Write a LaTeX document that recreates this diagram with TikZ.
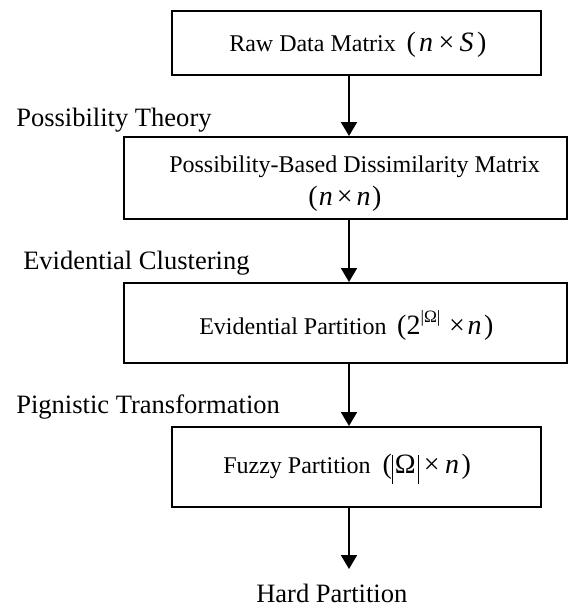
\documentclass[tikz,border=0pt]{standalone}
\usepackage{fontspec}
\setmainfont{Liberation Serif}
\usetikzlibrary{arrows.meta}
% math-like parts of the stage captions
\newcommand{\mth}[1]{{\fontsize{21}{24}\selectfont #1}}
\newcommand{\iv}[1]{\textit{#1}}
\newcommand{\tallbar}{\rule[-8.25pt]{0.7pt}{21.75pt}}
\newcommand{\gap}[1]{\hspace{#1pt}}
\begin{document}
\begin{tikzpicture}[x=0.75pt,y=-0.75pt,
  stage/.style={draw, line width=1.5pt, inner sep=0pt},
  stagetext/.style={anchor=base west, inner sep=0pt, font=\fontsize{18}{21}\selectfont},
  flow/.style={line width=1.5pt, -{Triangle[length=10.5pt,width=12pt]}},
  lbl/.style={anchor=base west, inner sep=0pt, font=\fontsize{19.9}{23}\selectfont}]
\useasboundingbox (0,0) rectangle (569,607);

% processing stages (boxes)
\node[stage, minimum width=276.75pt, minimum height=48pt]   (raw)   at (356.5,43)  {};
\node[stage, minimum width=332.25pt, minimum height=61.5pt] (diss)  at (345.5,178) {};
\node[stage, minimum width=332.25pt, minimum height=60pt]   (evid)  at (345.5,323) {};
\node[stage, minimum width=276.75pt, minimum height=60pt]   (fuzzy) at (356.5,467) {};

% stage captions
\node[stagetext] (rawt) at (229,51.5)
  {Raw Data Matrix\gap{8}\mth{(\gap{2.5}\iv{n}\gap{4}×\gap{4}\iv{S}\gap{2.5})}};
\node[stagetext] (disst) at (169,172) {Possibility-Based Dissimilarity Matrix};
\node[stagetext] (dissm) at (308,205)
  {\mth{(\gap{1}\iv{n}\gap{3}×\gap{3}\iv{n}\gap{1})}};
\node[stagetext] (evidt) at (199,334)
  {Evidential Partition\gap{8}\mth{(2\raisebox{9pt}{\fontsize{13}{13}\selectfont|Ω|}\gap{6.5}×\gap{2}\iv{n}\gap{2})}};
\node[stagetext] (fuzzyt) at (223,473)
  {Fuzzy Partition\gap{9}\mth{(\tallbar\gap{1.5}Ω\gap{1.5}\tallbar\gap{4}×\gap{4}\iv{n}\gap{2})}};

% final result
\node[lbl] (hard) at (256,602) {Hard Partition};
\coordinate (ax) at (349,0);
\coordinate (hardtop) at (349,569);

% method labels
\node[lbl] (l1) at (16,126)   {Possibility Theory};
\node[lbl] (l2) at (23,269)   {Evidential Clustering};
\node[lbl] (l3) at (16,413.5) {Pignistic Transformation};

% flow arrows
\draw[flow] (raw.south -| ax)   -- (diss.north -| ax);
\draw[flow] (diss.south -| ax)  -- (evid.north -| ax);
\draw[flow] (evid.south -| ax)  -- (fuzzy.north -| ax);
\draw[flow] (fuzzy.south -| ax) -- (hardtop);
\end{tikzpicture}
\end{document}
